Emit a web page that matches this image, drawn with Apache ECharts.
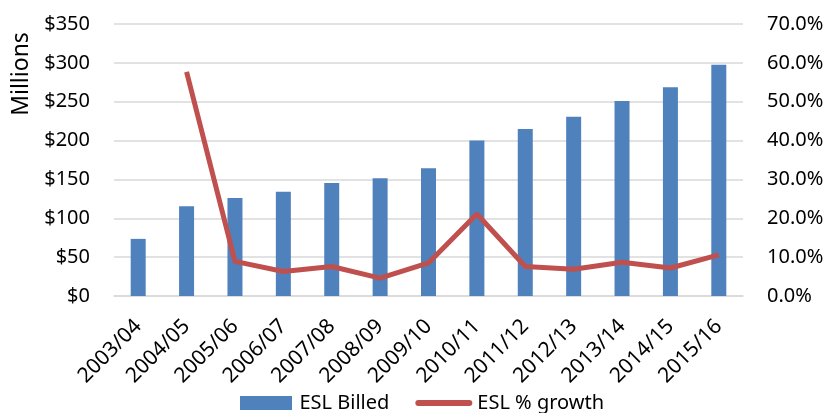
<!DOCTYPE html>
<html>
<head>
<meta charset="utf-8">
<script src="https://cdn.jsdelivr.net/npm/echarts@6/dist/echarts.min.js"></script>
<style>
  html, body { margin: 0; padding: 0; background: #fff; }
  #chart { width: 829px; height: 413px; }
</style>
</head>
<body>
<div id="chart"></div>
<script>
// data
var years = ['2003/04', '2004/05', '2005/06', '2006/07', '2007/08', '2008/09', '2009/10',
             '2010/11', '2011/12', '2012/13', '2013/14', '2014/15', '2015/16'];
var billed = [73.5, 115.5, 126, 134, 145.5, 151.5, 164.5, 200, 215, 230.5, 251, 268.5, 297.5];
var growth = [null, 57.7, 8.9, 6.3, 7.6, 4.6, 8.5, 21.1, 7.6, 6.9, 8.7, 7.2, 10.6];

var font = 'Noto Sans';
var gridColor = '#d9d9d9';

const chart = echarts.init(document.getElementById('chart'));

var option = {
    animation: false,
    textStyle: { fontFamily: font },
    grid: {
        left: 114,
        right: 86,
        top: 24,
        bottom: 117
    },
    legend: {
        bottom: 0,
        padding: 0,
        left: 240,
        itemWidth: 57,
        itemHeight: 14,
        itemGap: 26,
        textStyle: { fontFamily: font, fontSize: 20, color: '#000' },
        data: [
            { name: 'ESL Billed', icon: 'path://M0,0 L52,0 L52,14 L0,14 Z' },
            { name: 'ESL % growth', icon: 'path://M3,0 L54,0 A3,3 0 0 1 54,6 L3,6 A3,3 0 0 1 3,0 Z' }
        ]
    },
    graphic: [{
        type: 'text',
        x: 21,
        y: 74,
        rotation: Math.PI / 2,
        style: {
            text: 'Millions',
            fontFamily: font,
            fontSize: 23,
            fill: '#000',
            align: 'center',
            verticalAlign: 'middle'
        }
    }],
    xAxis: {
        type: 'category',
        data: years,
        axisTick: { show: false },
        axisLine: { lineStyle: { color: gridColor, width: 1.5 } },
        axisLabel: {
            rotate: 45,
            margin: 27,
            interval: 0,
            fontFamily: font,
            fontSize: 21,
            color: '#000'
        }
    },
    yAxis: [
        {
            type: 'value',
            min: 0,
            max: 350,
            interval: 50,
            axisLine: { show: false },
            axisTick: { show: false },
            splitLine: { lineStyle: { color: gridColor, width: 1.5 } },
            axisLabel: {
                margin: 24,
                fontFamily: font,
                fontSize: 20,
                color: '#000',
                formatter: function (v) { return '$' + v; }
            }
        },
        {
            type: 'value',
            min: 0,
            max: 70,
            interval: 10,
            axisLine: { show: false },
            axisTick: { show: false },
            splitLine: { show: false },
            axisLabel: {
                margin: 24,
                fontFamily: font,
                fontSize: 20,
                color: '#000',
                formatter: function (v) { return v.toFixed(1) + '%'; }
            }
        }
    ],
    series: [
        {
            name: 'ESL Billed',
            type: 'bar',
            data: billed,
            barWidth: 15,
            itemStyle: { color: '#4f81bd' }
        },
        {
            name: 'ESL % growth',
            type: 'line',
            yAxisIndex: 1,
            data: growth,
            symbol: 'none',
            lineStyle: { color: '#c0504d', width: 5 },
            itemStyle: { color: '#c0504d' }
        }
    ]
};

chart.setOption(option);
</script>
</body>
</html>
